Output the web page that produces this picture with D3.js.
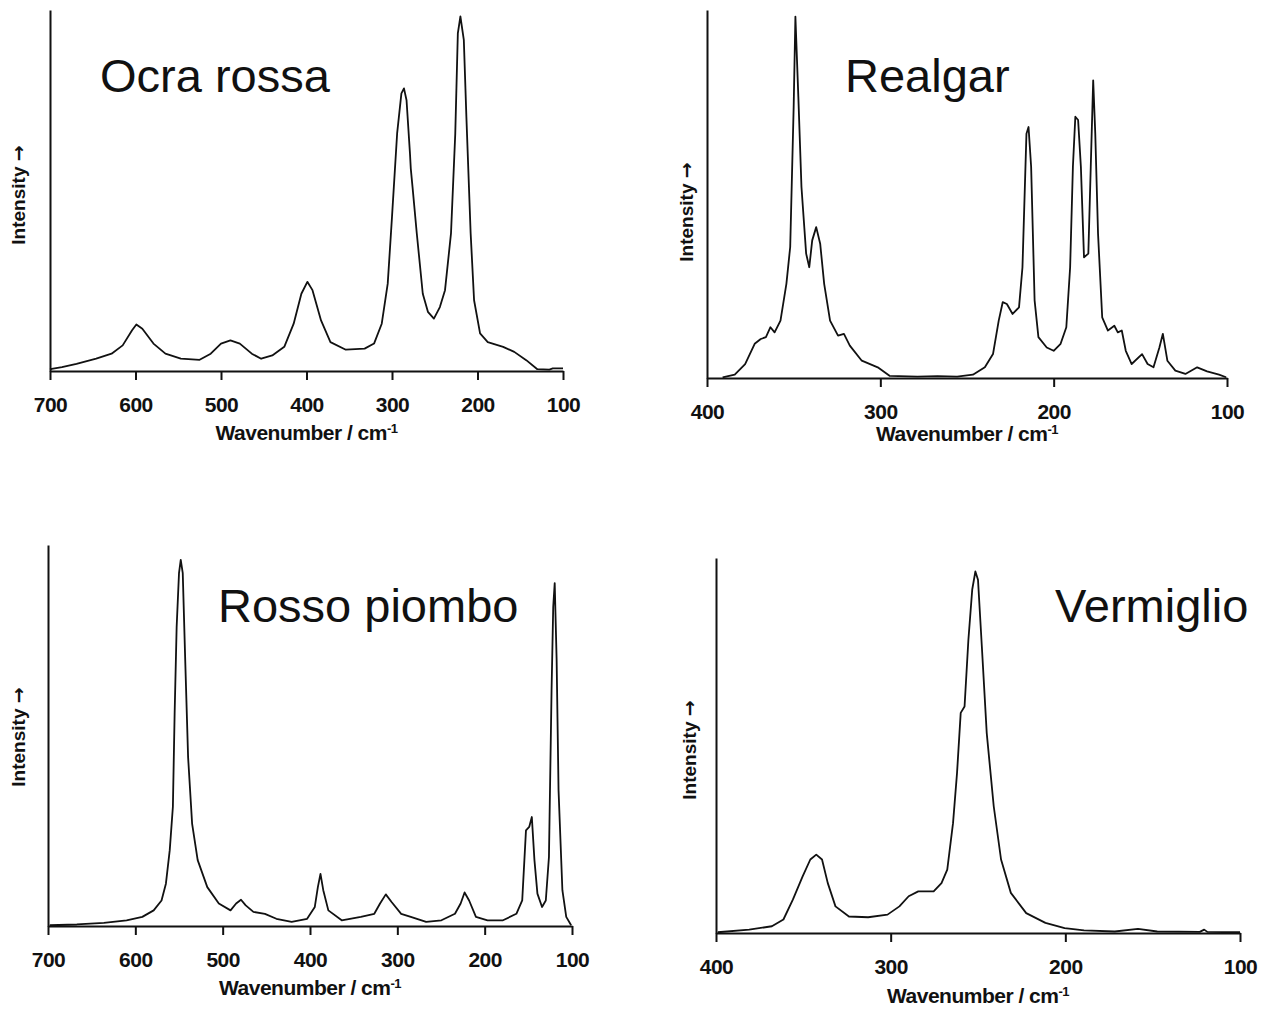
<!DOCTYPE html>
<html>
<head>
<meta charset="utf-8">
<script src="https://cdn.jsdelivr.net/npm/d3@7"></script>
<style>
  body { margin: 0; background: #fff; }
  svg { display: block; font-family: 'Liberation Sans', Arial, sans-serif; }
  .axis path, .axis line { stroke: #111; stroke-width: 2; }
  .axis text { font-size: 21px; font-weight: bold; fill: #111; letter-spacing: -0.5px; }
</style>
</head>
<body>
<svg width="1262" height="1016"></svg>
<script>
// spectra: [wavenumber, relative intensity]
const ocraRossa = [
  [700, 0.004], [698, 0.006], [686, 0.011], [669, 0.02], [646, 0.034], [628, 0.048], [615, 0.071],
  [604, 0.113], [599, 0.129], [592, 0.117], [579, 0.076], [565, 0.048], [547, 0.034], [525, 0.031],
  [512, 0.048], [500, 0.076], [489, 0.085], [478, 0.076], [464, 0.048], [453, 0.034], [440, 0.043],
  [426, 0.067], [415, 0.131], [406, 0.214], [399, 0.247], [393, 0.224], [383, 0.14], [372, 0.08],
  [354, 0.059], [332, 0.062], [321, 0.076], [312, 0.131], [305, 0.242], [300, 0.427], [294, 0.658],
  [289, 0.769], [286, 0.783], [283, 0.75], [279, 0.603], [278, 0.56], [276, 0.51], [271, 0.381],
  [264, 0.214], [258, 0.164], [251, 0.145], [244, 0.177], [238, 0.224], [231, 0.381], [226, 0.658],
  [223, 0.935], [220, 0.982], [216, 0.917], [213, 0.704], [208, 0.381], [204, 0.196], [197, 0.104],
  [188, 0.08], [170, 0.067], [157, 0.053], [143, 0.03], [130, 0.005], [116, 0.004], [112, 0.007],
  [100, 0.007]
]
const realgar = [
  [391, 0.002], [384, 0.009], [378, 0.038], [372.5, 0.093], [369, 0.106], [366, 0.111], [363.4, 0.138],
  [361, 0.124], [357.6, 0.156], [354.2, 0.256], [352, 0.356], [350, 0.737], [349, 0.982], [347.3, 0.764],
  [345.5, 0.519], [342.8, 0.338], [341, 0.301], [339.3, 0.374], [337, 0.41], [334.7, 0.365],
  [332.4, 0.256], [329, 0.156], [324.4, 0.115], [321, 0.12], [317.6, 0.088], [310.7, 0.047],
  [301.5, 0.029], [294.7, 0.006], [278.6, 0.004], [267, 0.005], [255.7, 0.004], [246.6, 0.009],
  [239.7, 0.029], [235, 0.065], [231.7, 0.156], [229.4, 0.206], [227, 0.201], [223.7, 0.174],
  [220, 0.192], [218, 0.301], [215.7, 0.664], [214.5, 0.682], [213, 0.574], [211, 0.211], [208.8, 0.111],
  [204, 0.083], [200, 0.074], [196, 0.093], [192.7, 0.138], [190.5, 0.301], [188.9, 0.574], [187.5, 0.71],
  [185.9, 0.701], [184.3, 0.574], [182.5, 0.328], [180, 0.338], [178.6, 0.574], [177.2, 0.809],
  [176, 0.664], [174.4, 0.392], [172, 0.165], [168.7, 0.129], [165, 0.142], [163, 0.124], [160.7, 0.129],
  [158.4, 0.074], [155, 0.038], [149, 0.065], [145.8, 0.038], [142.4, 0.029], [139, 0.083], [137, 0.12],
  [134.4, 0.047], [129.8, 0.02], [124, 0.011], [117.2, 0.029], [111.5, 0.018], [104.6, 0.009], [100.5, 0.002]
]
const rossoPiombo = [
  [698, 0.002], [667, 0.004], [636, 0.008], [610, 0.015], [592, 0.024], [579, 0.041], [570, 0.067],
  [565, 0.111], [560.6, 0.199], [557, 0.313], [555, 0.558], [552.7, 0.785], [550, 0.926], [548, 0.961],
  [545.7, 0.926], [543, 0.707], [539.6, 0.444], [535, 0.269], [528.6, 0.173], [517.6, 0.102],
  [504.4, 0.059], [491, 0.041], [484.6, 0.059], [479, 0.069], [473.6, 0.054], [464.8, 0.037],
  [451.6, 0.032], [438.5, 0.019], [421, 0.011], [403.3, 0.019], [394.5, 0.05], [391, 0.102],
  [388, 0.137], [384.8, 0.094], [379, 0.041], [363.7, 0.015], [341.8, 0.024], [326.4, 0.032],
  [319.8, 0.059], [313.2, 0.083], [306.6, 0.063], [295.6, 0.032], [284.6, 0.024], [267, 0.011],
  [249.5, 0.015], [234, 0.032], [227.5, 0.059], [223, 0.088], [217.8, 0.067], [210, 0.024],
  [196.7, 0.015], [179, 0.015], [163.7, 0.032], [157, 0.067], [152.7, 0.251], [149, 0.26], [146, 0.286],
  [143, 0.173], [139.6, 0.085], [134.3, 0.05], [130, 0.067], [126.4, 0.181], [123.4, 0.619],
  [121.5, 0.838], [119.8, 0.9], [117.6, 0.698], [115.4, 0.356], [111, 0.094], [106.6, 0.024], [101, 0.002]
]
const vermiglio = [
  [399, 0.002], [381, 0.009], [368, 0.018], [361.4, 0.036], [356, 0.089], [350.4, 0.151], [346, 0.196],
  [342.6, 0.209], [339.3, 0.196], [336, 0.133], [331.6, 0.071], [323.9, 0.044], [312.9, 0.042],
  [301.8, 0.049], [295, 0.071], [289.7, 0.098], [284.2, 0.111], [279.8, 0.111], [275.4, 0.111],
  [270.9, 0.133], [267.6, 0.169], [264.3, 0.293], [262, 0.427], [259.9, 0.587], [257.7, 0.604],
  [255.5, 0.782], [253.3, 0.916], [251.5, 0.964], [250, 0.942], [247.8, 0.764], [245, 0.533],
  [241, 0.338], [236.8, 0.196], [231.2, 0.107], [222.4, 0.053], [211.4, 0.027], [200.4, 0.013],
  [189.3, 0.007], [171.7, 0.004], [158.4, 0.011], [147.4, 0.004], [123, 0.003], [120.5, 0.009],
  [118.7, 0.003], [100, 0.002]
]

const titles = ['Ocra rossa', 'Realgar', 'Rosso piombo', 'Vermiglio']
const wideTicks = [700, 600, 500, 400, 300, 200, 100]
const narrowTicks = [400, 300, 200, 100]

// panel frames in page pixels
const panels = [
  {data: ocraRossa, title: titles[0], ticks: wideTicks, x0: 50, x1: 563, top: 10, bottom: 371, tx: 100, ty: 92, ylx: 18, yly: 195, xly: 62},
  {data: realgar, title: titles[1], ticks: narrowTicks, x0: 707, x1: 1227, top: 10, bottom: 378, tx: 845, ty: 92, ylx: 686, yly: 212, xly: 56},
  {data: rossoPiombo, title: titles[2], ticks: wideTicks, x0: 48, x1: 572, top: 545, bottom: 926, tx: 218, ty: 622, ylx: 18, yly: 737, xly: 62},
  {data: vermiglio, title: titles[3], ticks: narrowTicks, x0: 716, x1: 1240, top: 558, bottom: 933, tx: 1055, ty: 622, ylx: 689, yly: 750, xly: 63}
]

const svg = d3.select('svg')

panels.forEach(p => {
  const g = svg.append('g')

  const x = d3.scaleLinear()
    .domain([p.ticks[0], p.ticks[p.ticks.length - 1]])
    .range([p.x0, p.x1])
  const y = d3.scaleLinear()
    .domain([0, 1])
    .range([p.bottom, p.top])

  g.append('path')
    .datum(p.data)
    .attr('fill', 'none')
    .attr('stroke', '#111')
    .attr('stroke-width', 1.8)
    .attr('stroke-linejoin', 'round')
    .attr('d', d3.line().x(d => x(d[0])).y(d => y(d[1])))

  g.append('g')
    .attr('class', 'axis')
    .attr('transform', 'translate(0,' + p.bottom + ')')
    .call(d3.axisBottom(x).tickValues(p.ticks).tickSize(9).tickSizeOuter(0).tickPadding(17).tickFormat(d3.format('d')))

  g.append('g')
    .attr('class', 'axis')
    .attr('transform', 'translate(' + p.x0 + ',0)')
    .call(d3.axisLeft(y).tickValues([]).tickSizeOuter(0))

  g.append('text')
    .attr('x', p.tx)
    .attr('y', p.ty)
    .attr('font-size', 47)
    .attr('fill', '#111')
    .text(p.title)

  const xl = g.append('text')
    .attr('x', (p.x0 + p.x1) / 2)
    .attr('y', p.bottom + p.xly)
    .attr('dy', '0.35em')
    .attr('text-anchor', 'middle')
    .attr('font-size', 21)
    .attr('font-weight', 'bold')
    .attr('letter-spacing', '-0.5px')
    .attr('fill', '#111')
  xl.append('tspan').text('Wavenumber / cm')
  xl.append('tspan').attr('dy', '-0.55em').attr('font-size', 13).text('-1')

  const yl = g.append('text')
    .attr('transform', 'translate(' + p.ylx + ',' + p.yly + ') rotate(-90)')
    .attr('dy', '0.35em')
    .attr('text-anchor', 'middle')
    .attr('font-size', 19)
    .attr('font-weight', 'bold')
    .attr('fill', '#111')
  yl.append('tspan').text('Intensity ')
  yl.append('tspan').attr('font-family', 'DejaVu Sans').text('\u2192')
})
</script>
</body>
</html>
